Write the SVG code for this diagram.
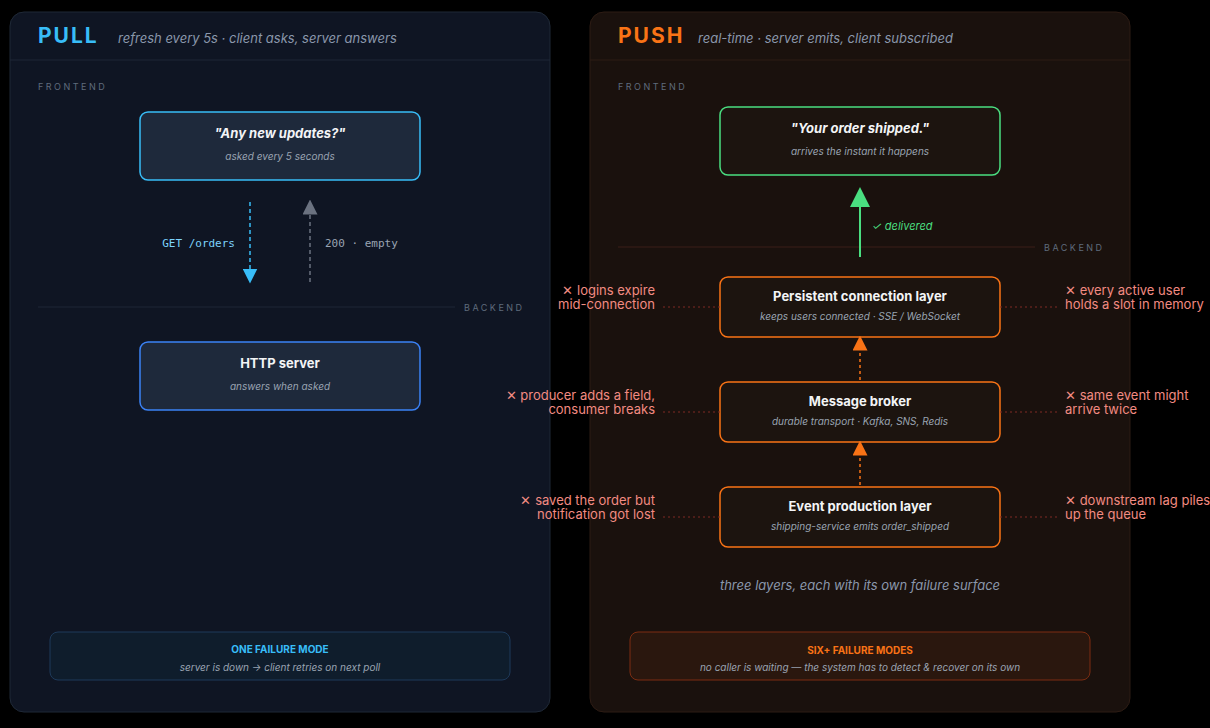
<svg xmlns="http://www.w3.org/2000/svg" width="1210" height="728" viewBox="0 0 1210 728">
<style>
text{font-family:Inter,"Liberation Sans",sans-serif}
.title{font-size:21px;font-weight:700;letter-spacing:2px}
.sub{font-size:13px;font-style:italic;fill:#8a97ab}
.zone{font-size:9px;letter-spacing:2.5px;fill:#5f6b7c}
.nt{font-size:13px;font-weight:700;fill:#f3f4f6;text-anchor:middle}
.ns{font-size:10px;font-style:italic;fill:#9aa4b2;text-anchor:middle}
.fail{font-size:13px;fill:#f28b82}
.mono{font-family:"DejaVu Sans Mono","Liberation Mono",monospace;font-size:11px}
.onode{fill:#1c140f;stroke:#f97316;stroke-width:1.5}
.fl{stroke:#7f2a24;stroke-width:1.2;stroke-dasharray:2 3}
</style>
<defs>
<marker id="ab" markerWidth="10" markerHeight="10" refX="5" refY="5" orient="auto"><path d="M0,0L10,5L0,10z" fill="#38bdf8"/></marker>
<marker id="ag" markerWidth="10" markerHeight="10" refX="5" refY="5" orient="auto"><path d="M0,0L10,5L0,10z" fill="#6b7280"/></marker>
<marker id="ao" markerWidth="10" markerHeight="10" refX="5" refY="5" orient="auto"><path d="M0,0L10,5L0,10z" fill="#f97316"/></marker>
<marker id="agr" markerWidth="10" markerHeight="10" refX="5" refY="5" orient="auto"><path d="M0,0L10,5L0,10z" fill="#4ade80"/></marker>
</defs>
<rect width="1210" height="728" fill="#000"/>
<g id="pull-panel">
<rect x="10" y="12" width="540" height="700" rx="14" fill="#0f1523" stroke="#1f2937"/>
<line x1="10" y1="60" x2="550" y2="60" stroke="#1e2636"/>
<text x="38" y="43" class="title" fill="#38bdf8">PULL</text>
<text x="118" y="43" class="sub">refresh every 5s · client asks, server answers</text>
<text x="38" y="90" class="zone">FRONTEND</text>
<line x1="38" y1="307" x2="455" y2="307" stroke="#1e2636"/>
<text x="464" y="311" class="zone">BACKEND</text>
</g>
<g id="push-panel">
<rect x="590" y="12" width="540" height="700" rx="14" fill="#1a110d" stroke="#2d1c14"/>
<line x1="590" y1="60" x2="1130" y2="60" stroke="#2d1c14"/>
<text x="618" y="43" class="title" fill="#f97316">PUSH</text>
<text x="698" y="43" class="sub">real-time · server emits, client subscribed</text>
<text x="618" y="90" class="zone">FRONTEND</text>
<line x1="618" y1="247" x2="1035" y2="247" stroke="#3a1e18"/>
<text x="1044" y="251" class="zone">BACKEND</text>
<text x="860" y="590" class="sub" text-anchor="middle" font-size="12">three layers, each with its own failure surface</text>
</g>
<g id="n-query">
<rect x="140" y="112" width="280" height="68" rx="8" fill="#1e293b" stroke="#38bdf8" stroke-width="1.5"/>
<text x="280" y="138" class="nt" font-style="italic" font-weight="400">"Any new updates?"</text>
<text x="280" y="160" class="ns" font-style="normal" font-size="11">asked every 5 seconds</text>
</g>
<g id="n-http">
<rect x="140" y="342" width="280" height="68" rx="8" fill="#1e293b" stroke="#3b82f6" stroke-width="1.5"/>
<text x="280" y="368" class="nt">HTTP server</text>
<text x="280" y="390" class="ns">answers when asked</text>
</g>
<g id="n-one">
<rect x="50" y="632" width="460" height="48" rx="8" fill="#0f1d2c" stroke="#1e3a5a"/>
<text x="280" y="653" text-anchor="middle" font-size="10" font-weight="700" fill="#38bdf8">ONE FAILURE MODE</text>
<text x="280" y="671" class="ns" font-size="11" fill="#b0b8c4">server is down → client retries on next poll</text>
</g>
<g id="n-shipped">
<rect x="720" y="107" width="280" height="68" rx="8" fill="#1c140f" stroke="#4ade80" stroke-width="1.5"/>
<text x="860" y="133" class="nt" font-style="italic" font-weight="400">"Your order shipped."</text>
<text x="860" y="155" class="ns" font-style="normal" font-size="10">arrives the instant it happens</text>
</g>
<g id="n-persist">
<rect x="720" y="277" width="280" height="60" rx="8" class="onode"/>
<text x="860" y="301" class="nt">Persistent connection layer</text>
<text x="860" y="320" class="ns">keeps users connected · SSE / WebSocket</text>
</g>
<g id="n-broker">
<rect x="720" y="382" width="280" height="60" rx="8" class="onode"/>
<text x="860" y="406" class="nt">Message broker</text>
<text x="860" y="425" class="ns">durable transport · Kafka, SNS, Redis</text>
</g>
<g id="n-event">
<rect x="720" y="487" width="280" height="60" rx="8" class="onode"/>
<text x="860" y="511" class="nt">Event production layer</text>
<text x="860" y="530" class="ns">shipping-service emits order_shipped</text>
</g>
<g id="n-six">
<rect x="630" y="632" width="460" height="48" rx="8" fill="#2a170e" stroke="#7c2d12"/>
<text x="860" y="654" text-anchor="middle" font-size="10" font-weight="700" fill="#f97316">SIX+ FAILURE MODES</text>
<text x="860" y="671" class="ns" font-size="11" fill="#b0b8c4">no caller is waiting — the system has to detect &amp; recover on its own</text>
</g>
<g id="failures">
<text class="fail" text-anchor="end"><tspan x="655" y="295">✕ logins expire</tspan><tspan x="655" y="309">mid-connection</tspan></text>
<text class="fail" text-anchor="end"><tspan x="655" y="400">✕ producer adds a field,</tspan><tspan x="655" y="414">consumer breaks</tspan></text>
<text class="fail" text-anchor="end"><tspan x="655" y="505">✕ saved the order but</tspan><tspan x="655" y="519">notification got lost</tspan></text>
<text class="fail"><tspan x="1065" y="295">✕ every active user</tspan><tspan x="1065" y="309">holds a slot in memory</tspan></text>
<text class="fail"><tspan x="1065" y="400">✕ same event might</tspan><tspan x="1065" y="414">arrive twice</tspan></text>
<text class="fail"><tspan x="1065" y="505">✕ downstream lag piles</tspan><tspan x="1065" y="519">up the queue</tspan></text>
</g>
<g id="connectors">
<line x1="250" y1="202" x2="250" y2="276" stroke="#38bdf8" stroke-width="1.5" stroke-dasharray="4 3" marker-end="url(#ab)"/>
<line x1="310" y1="282" x2="310" y2="207" stroke="#6b7280" stroke-width="1.5" stroke-dasharray="4 3" marker-end="url(#ag)"/>
<text x="235" y="247" class="mono" fill="#7dd3fc" text-anchor="end">GET /orders</text>
<text x="325" y="247" class="mono" fill="#9aa4b2">200 · empty</text>
<line x1="860" y1="257" x2="860" y2="197" stroke="#4ade80" stroke-width="2" marker-end="url(#agr)"/>
<text x="872" y="230" font-size="11" font-style="italic" fill="#4ade80">✓ delivered</text>
<line x1="860" y1="380" x2="860" y2="343" stroke="#f97316" stroke-width="1.5" stroke-dasharray="3 3" marker-end="url(#ao)"/>
<line x1="860" y1="485" x2="860" y2="448" stroke="#f97316" stroke-width="1.5" stroke-dasharray="3 3" marker-end="url(#ao)"/>
<line x1="663" y1="307" x2="720" y2="307" class="fl"/>
<line x1="663" y1="412" x2="720" y2="412" class="fl"/>
<line x1="663" y1="517" x2="720" y2="517" class="fl"/>
<line x1="1000" y1="307" x2="1057" y2="307" class="fl"/>
<line x1="1000" y1="412" x2="1057" y2="412" class="fl"/>
<line x1="1000" y1="517" x2="1057" y2="517" class="fl"/>
</g>
</svg>
